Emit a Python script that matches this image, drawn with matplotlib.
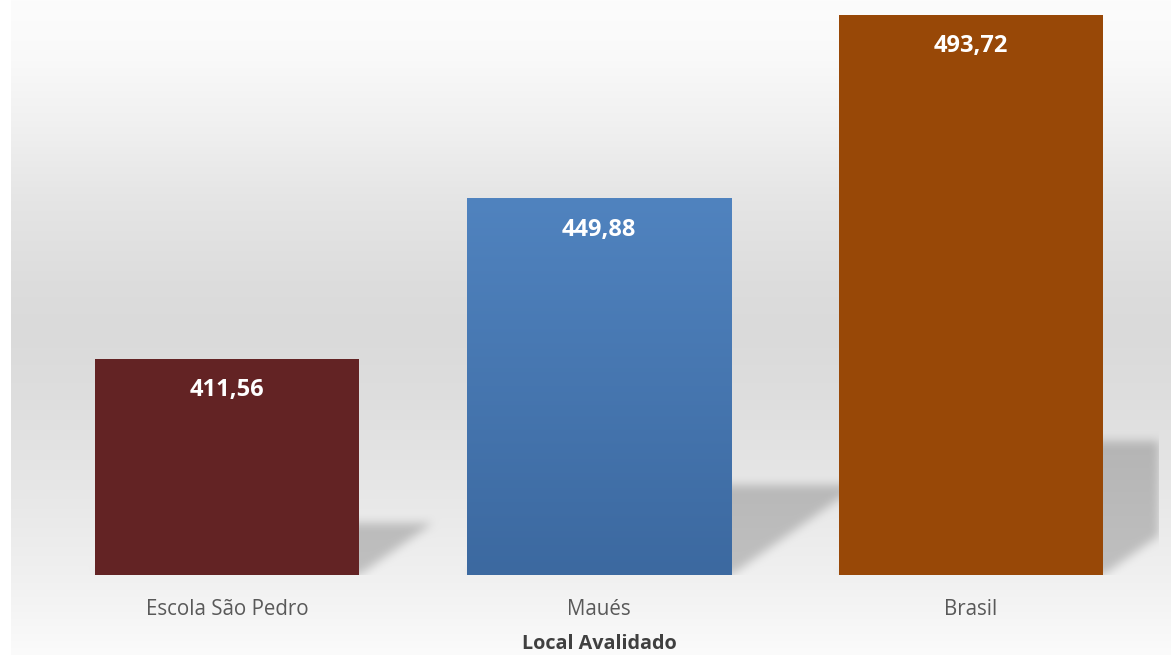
import numpy as np
import matplotlib.pyplot as plt
from matplotlib.path import Path

locais = ["Escola São Pedro", "Maués", "Brasil"]
notas = [411.56, 449.88, 493.72]
rotulos = ["411,56", "449,88", "493,72"]
cores = ["#632324", "#4a7ebb", "#984807"]

W, H = 1171, 655
fig = plt.figure(figsize=(W / 100, H / 100), dpi=100)
fig.patch.set_facecolor("white")

# background with vertical grey gradient
bg = fig.add_axes([11 / W, 0, 1 - 11 / W, 1], zorder=0)
bg.set_axis_off()
rows = np.arange(H)
stops_y = [0, 60, 120, 200, 280, 330, 400, 480, 575, 655]
stops_v = [252, 249, 241, 229, 221, 218, 222, 230, 240, 251]
grey = np.interp(rows, stops_y, stops_v) / 255.0
bgimg = np.repeat(grey[:, None], W - 11, axis=1)
rgb = np.dstack([bgimg, bgimg, bgimg])

ax = fig.add_axes([41 / W, (H - 575) / H, (1157 - 41) / W, 575 / H], zorder=2)
ax.patch.set_alpha(0)
ymin, ymax = 360, 497.2
ax.set_ylim(ymin, ymax)
ax.set_xlim(-0.5, 2.5)
x = np.arange(len(locais))
largura = 0.71

# soft perspective shadows behind bars (built from the bar geometry)
mask = np.zeros((H, W - 11))
yy, xx = np.mgrid[0:H, 11:W]
pts = np.column_stack([xx.ravel() + 0.5, (H - yy.ravel()) - 0.5])
for i, v in enumerate(notas):
    (x0, y0) = ax.transData.transform((x[i] - largura / 2, ymin))
    (x1, y1) = ax.transData.transform((x[i] + largura / 2, v))
    h = y1 - y0
    dx, rise = 0.34 * h, 0.24 * h
    poly = Path([(x0, y0), (x1, y0), (x1 + dx, y0 + rise), (x0 + dx, y0 + rise)])
    mask = np.maximum(mask, poly.contains_points(pts).reshape(H, W - 11).astype(float))
# clip shadow at the chart's right edge
mask[:, 1159 - 11:] = 0
mask[575:, :] = 0


def box_blur(a, r):
    k = np.ones(2 * r + 1) / (2 * r + 1)
    a = np.apply_along_axis(lambda m: np.convolve(m, k, mode="same"), 0, a)
    a = np.apply_along_axis(lambda m: np.convolve(m, k, mode="same"), 1, a)
    return a


mask = box_blur(box_blur(mask, 5), 5)
mask[575:, :] = 0
mask[:, 1159 - 11:] = 0
rgb = rgb * (1 - 0.2 * mask[:, :, None])
bg.imshow(rgb, aspect="auto", extent=[0, 1, 0, 1], interpolation="bilinear")
bg.set_xlim(0, 1)
bg.set_ylim(0, 1)

barras = ax.bar(x, [v - ymin for v in notas], bottom=ymin, width=largura,
                color=cores, zorder=3)

# gradient fill for the blue bar
b = barras[1]
grad = np.linspace(0, 1, 256)[:, None]
top_c = np.array([0x50, 0x83, 0xbf]) / 255
bot_c = np.array([0x3c, 0x69, 0xa0]) / 255
gimg = top_c[None, None, :] * (1 - grad[:, :, None]) + bot_c[None, None, :] * grad[:, :, None]
im = ax.imshow(gimg, aspect="auto", zorder=4,
               extent=[b.get_x(), b.get_x() + b.get_width(), ymin, notas[1]])
im.set_clip_path(b)
ax.set_xlim(-0.5, 2.5)
ax.set_ylim(ymin, ymax)

for i, v in enumerate(notas):
    ax.annotate(rotulos[i], (x[i], v), xytext=(0, -22.5), textcoords="offset points",
                ha="center", va="center", color="white", fontsize=17,
                fontweight="bold", family="Open Sans", zorder=5)

ax.set_xticks(x)
ax.set_xticklabels(locais, fontsize=14.8, color="#595959", family="Open Sans")
ax.tick_params(axis="x", length=0, pad=17)
ax.set_yticks([])
for s in ax.spines.values():
    s.set_visible(False)
ax.set_xlabel("Local Avalidado", fontsize=14.2, fontweight="bold", color="#404040",
              family="Open Sans", labelpad=10.5)

fig.savefig("out.png", dpi=100)
